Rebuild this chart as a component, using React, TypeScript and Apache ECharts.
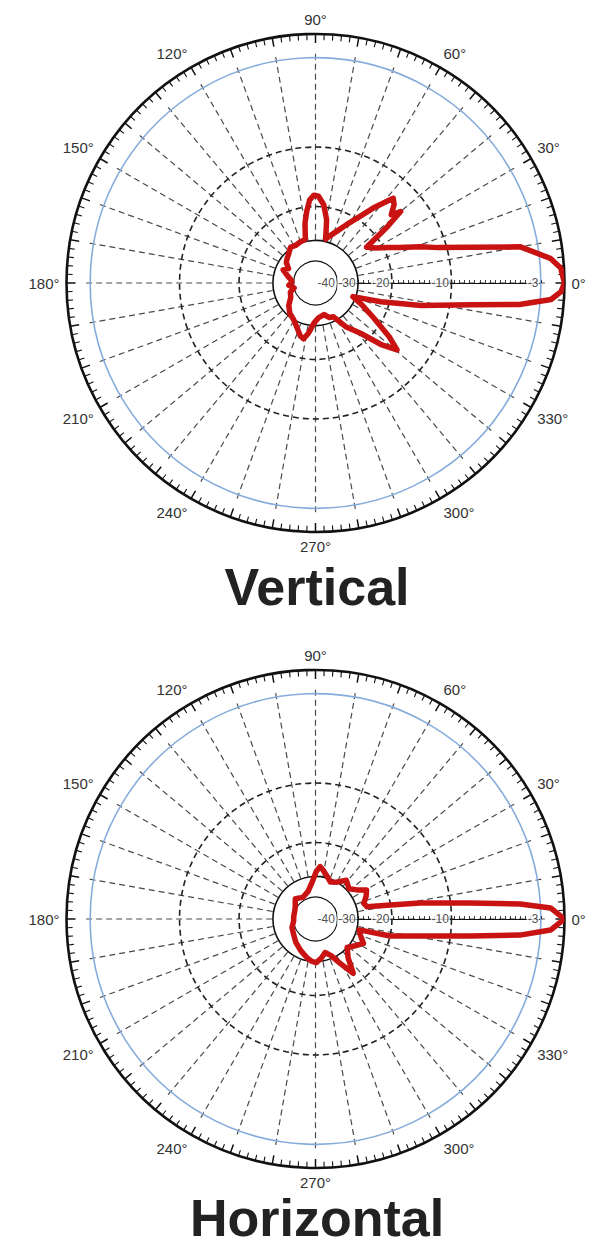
import React, { useEffect, useRef } from "react";
import * as echarts from "echarts";

// ---- data (dB relative to the main-lobe peak) ----
const ANGLE_V = [0, 3.5, 6, 10, 13, 16, 19, 23, 26, 30, 35, 38, 40, 42, 45, 47.5, 52, 56, 62, 68, 73, 77, 80, 84, 88, 91, 94, 97, 100, 103, 110, 118, 125, 132, 140, 145, 152, 158, 166, 172, 178, 185, 193, 200, 210, 220, 230, 239, 247, 254, 258, 262, 268, 275, 285, 292, 298, 305, 312, 317, 320.6, 324, 329, 335, 340, 344, 348, 352, 354, 356, 358, 360];
const DB_V = [0, -0.4, -1.6, -4.1, -7.8, -11, -13.5, -17, -19, -21.5, -23.5, -17, -13.5, -15, -13.5, -12.9, -16, -19, -22.5, -25.5, -27.5, -29, -23, -19.5, -17.8, -17.6, -18.5, -21, -24, -29, -29.5, -30, -29.6, -31, -32, -32.7, -35, -33, -36, -38, -39, -37, -40, -37, -36, -33, -31, -30, -28, -25.6, -25, -27, -31, -33, -34, -32, -31.6, -26, -22, -17, -14.4, -17, -22, -27, -31, -22, -14, -8, -4.3, -1.6, -0.4, 0];

const ANGLE_H = [0, 2.7, 4.2, 5.9, 8.7, 10.6, 13.5, 18, 24, 29.6, 35, 42, 51.5, 60, 68, 76, 81, 85, 89, 95, 105, 120, 135, 150, 165, 175, 185, 200, 215, 230, 245, 258, 265, 271, 278, 286, 293, 299, 304.8, 310, 318, 326, 333, 340, 346, 347.2, 350.8, 353.7, 355.5, 357.3, 360];
const DB_H = [0, -1.7, -4.3, -8.2, -14.4, -20, -26.3, -27, -25.5, -24.5, -27, -29, -27.4, -30, -31, -29, -27.5, -26.4, -28, -32, -36, -38, -36, -39, -40, -40, -40, -38, -37, -35, -33, -31, -30, -29.6, -31, -33, -31, -27, -22.5, -27, -30, -28, -26, -28, -29, -20, -14.3, -8.1, -4.3, -1.7, 0];

const RING_DB = [0, -3, -10, -20, -30, -40];
const ANGLE_TICK_STEP = 30;
const TITLES = ["Vertical", "Horizontal"];

// ---- radial dB scale of the chart paper (fraction of outer radius at each ring) ----
const RING_FRAC = [1, 0.905, 0.546, 0.307, 0.171, 0.088];
function dbToR(db: number): number {
  let i = 0;
  while (i < RING_DB.length - 2 && db < RING_DB[i + 1]) i++;
  const t = (RING_DB[i] - db) / (RING_DB[i] - RING_DB[i + 1]);
  const a = Math.log(RING_FRAC[i]);
  const b = Math.log(RING_FRAC[i + 1]);
  return Math.exp(a + t * (b - a));
}

const FONT = "Liberation Sans";

function buildOption() {
  const R = 249;
  const centers = [
    [315.5, 283],
    [315.5, 919],
  ];
  const polar: any[] = [];
  const angleAxis: any[] = [];
  const radiusAxis: any[] = [];
  const series: any[] = [];

  const baseAngle = (idx: number) => ({
    polarIndex: idx,
    type: "value",
    min: 0,
    max: 360,
    interval: 10,
    startAngle: 0,
    clockwise: false,
    axisLine: { show: false },
    axisTick: { show: false },
    minorTick: { show: false },
    axisLabel: { show: false },
    splitLine: { show: false },
    splitArea: { show: false },
  });
  const baseRadius = (idx: number) => ({
    polarIndex: idx,
    type: "value",
    min: 0,
    max: 1,
    axisLine: { show: false },
    axisTick: { show: false },
    axisLabel: { show: false },
    splitLine: { show: false },
    splitArea: { show: false },
  });
  const add = (center: number[], radius: any, ang: any, rad: any) => {
    const idx = polar.length;
    polar.push({ center, radius });
    angleAxis.push({ ...baseAngle(idx), ...ang });
    radiusAxis.push({ ...baseRadius(idx), ...rad });
    return idx;
  };

  const plots = [
    { angles: ANGLE_V, db: DB_V },
    { angles: ANGLE_H, db: DB_H },
  ];

  plots.forEach((pl, p) => {
    const c = centers[p];
    // outer degree ring
    const outer = add(c, R, {
      axisLine: { show: true, lineStyle: { color: "#111", width: 2.6 } },
      axisTick: { show: true, inside: true, length: 9, lineStyle: { color: "#111", width: 1.5 } },
      minorTick: { show: true, splitNumber: 5, length: 6, lineStyle: { color: "#111", width: 1.1 } },
      axisLabel: {
        show: true,
        margin: 7,
        color: "#333",
        fontSize: 15,
        fontFamily: FONT,
        formatter: (v: number) => (v % ANGLE_TICK_STEP === 0 && v < 360 ? v + "°" : ""),
      },
    }, {});
    // dashed spokes
    add(c, [R * dbToR(-30), R * dbToR(-3) + 4], {
      splitLine: { show: true, lineStyle: { color: "#4a4a4a", width: 1.2, type: [6, 4] } },
    }, {});
    // dB rings
    RING_DB.slice(1).forEach((d) => {
      let ls: any;
      if (d === -3) ls = { color: "#86acdb", width: 1.6, type: "solid" };
      else if (d === -10 || d === -20) ls = { color: "#222", width: 1.6, type: [6, 4] };
      else if (d === -30) ls = { color: "#111", width: 1.6, type: "solid" };
      else ls = { color: "#111", width: 1.1, type: "solid" };
      add(c, R * dbToR(d), { axisLine: { show: true, lineStyle: ls } }, {});
    });
    // 0° ruler
    add(c, [R * dbToR(-40), R * dbToR(-3)], {}, {
      axisLine: { show: true, lineStyle: { color: "#111", width: 1.2 } },
      axisTick: { show: true, length: 3, lineStyle: { color: "#111", width: 0.8 } },
      interval: 0.025,
    });

    series.push({
      type: "line",
      coordinateSystem: "polar",
      polarIndex: outer,
      data: pl.angles.map((a, i) => [dbToR(pl.db[i]), a]),
      showSymbol: false,
      symbol: "none",
      lineStyle: { color: "#c91212", width: 5.5, join: "round", cap: "round" },
      z: 5,
    });
    series.push({
      type: "scatter",
      coordinateSystem: "polar",
      polarIndex: outer,
      symbolSize: 1,
      itemStyle: { color: "rgba(0,0,0,0)" },
      data: RING_DB.slice(1).map((d) => [dbToR(d), 0, String(d)]),
      label: {
        show: true,
        position: "left",
        distance: 1,
        formatter: (q: any) => q.data[2],
        color: "#222",
        fontSize: 12,
        fontFamily: FONT,
        backgroundColor: "#fff",
        padding: [0, 1],
      },
      z: 4,
    });
  });

  const graphic = TITLES.map((t, i) => ({
    type: "text",
    x: 317,
    y: i === 0 ? 587 : 1218,
    style: {
      text: t,
      fontSize: 52,
      lineHeight: 44,
      fontWeight: "bold",
      fontFamily: FONT,
      fill: "#222",
      align: "center",
      verticalAlign: "middle",
    },
  }));

  return {
    animation: false,
    backgroundColor: "#fff",
    polar,
    angleAxis,
    radiusAxis,
    series,
    graphic,
  };
}

export default function App() {
  const ref = useRef<HTMLDivElement>(null);
  useEffect(() => {
    document.body.style.margin = "0";
    const chart = echarts.init(ref.current!, undefined, { renderer: "svg" });
    chart.setOption(buildOption() as any);
    return () => chart.dispose();
  }, []);
  return <div ref={ref} style={{ width: 598, height: 1247 }} />;
}
